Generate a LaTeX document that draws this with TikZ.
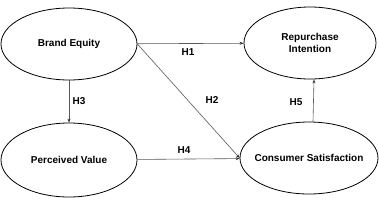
\documentclass[tikz,border=0pt]{standalone}
\usepackage{fontspec}
\setmainfont{Liberation Sans}
\usetikzlibrary{shapes.geometric, arrows.meta}

\begin{document}
\begin{tikzpicture}[x=1pt, y=-1pt, font=\fontsize{10}{12}\selectfont\bfseries,
        construct/.style={ellipse, draw=black, line width=0.8pt, inner sep=0pt,
            minimum width=136pt, minimum height=72pt, align=center},
        path/.style={draw=black!65, line width=0.6pt,
            -{Stealth[length=4pt, width=3pt, black!80]}},
        hyp/.style={inner sep=1pt}]

        \useasboundingbox (0, 0) rectangle (379, 202);

        % ---------------------------------------------------
        % 1. Constructs (Ellipses)
        % ---------------------------------------------------

        % Brand Equity (top left)
        \node[construct] (be) at (69, 44) {Brand Equity};

        % Repurchase Intention (top right)
        \node[construct, minimum width=132pt] (ri) at (310, 43) {Repurchase\\Intention};

        % Perceived Value (bottom left)
        \node[construct, minimum height=74pt] (pv) at (69, 160) {Perceived Value};

        % Consumer Satisfaction (bottom right)
        \node[construct, minimum width=138pt] (cs) at (309, 158) {\makebox[0pt]{Consumer Satisfaction}};


        % ---------------------------------------------------
        % 2. Hypothesised Paths
        % ---------------------------------------------------

        \draw[path] (be) -- (ri);
        \draw[path] (be.east) -- (cs.west);
        \draw[path] (be.south) -- (pv.north);
        \draw[path] (pv) -- (cs);
        \draw[path] ([xshift=4pt]cs.north) -- ([xshift=4pt]ri.south);


        % ---------------------------------------------------
        % 3. Labels
        % ---------------------------------------------------

        \node[hyp] (h1) at (188, 52) {H1};
        \node[hyp] (h2) at (212, 100) {H2};
        \node[hyp] (h3) at (79, 101) {H3};
        \node[hyp] (h4) at (184, 150) {H4};
        \node[hyp] (h5) at (296, 102) {H5};

    \end{tikzpicture}
\end{document}
